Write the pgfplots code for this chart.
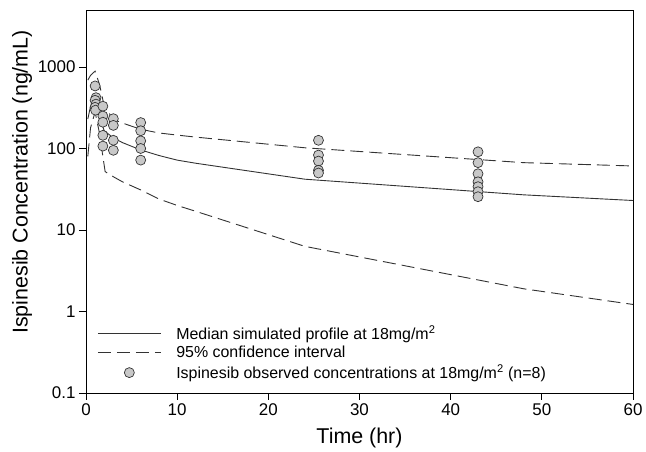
\documentclass[border=0pt]{standalone}
\usepackage{fontspec}
\setmainfont{Liberation Sans}
\usepackage{pgfplots}
\pgfplotsset{compat=1.18}

\definecolor{linegray}{HTML}{333333}
\definecolor{dotfill}{HTML}{C8C8C8}

\begin{document}
\begin{tikzpicture}
\useasboundingbox (-86bp,-59bp) rectangle (560bp,393bp);
\begin{axis}[
  scale only axis,
  width=547bp, height=383bp,
  xmin=0, xmax=60,
  ymode=log, ymin=0.1, ymax=5000,
  xtick={0,10,20,30,40,50,60},
  xticklabels={0,10,20,30,40,50,60},
  ytick={0.1,1,10,100,1000},
  yticklabels={0.1,1,10,100,1000},
  yminorticks=false,
  tick pos=left,
  tick align=outside,
  major tick length=7bp,
  every tick/.style={black, line width=0.8bp},
  axis line style={line width=0.9bp},
  ticklabel style={font=\fontsize{17}{20}\selectfont},
  xlabel={Time (hr)},
  ylabel={Ispinesib Concentration (ng/mL)},
  every axis x label/.style={at={(axis description cs:0.5,-0.1175)}, anchor=center,
    font=\fontsize{21.5}{25}\selectfont},
  every axis y label/.style={at={(axis description cs:-0.117,0.551)}, anchor=center, rotate=90,
    font=\fontsize{21.5}{25}\selectfont},
  legend image code/.code={\draw[mark repeat=2,mark phase=2,#1] plot coordinates {(0bp,0bp) (31.5bp,0bp) (63bp,0bp)};},
  legend style={draw=none, fill=none, at={(axis description cs:0.015,0.022)}, anchor=south west,
    font=\fontsize{16}{18}\selectfont, row sep=1.5bp, column sep=13bp,
    nodes={inner sep=2bp}},
  legend cell align=left,
]
\addplot[linegray, line width=0.9bp] coordinates {
 (0.2,230) (0.5,330) (1,430) (1.5,240) (2,165) (3,135) (4,118) (6,96)
 (8,82) (10,72) (12,66) (24,42) (48,27) (60,23)};
\addlegendentry{Median simulated profile at 18mg/m\textsuperscript{2}}
\addplot[linegray, line width=0.9bp, dash pattern=on 13bp off 6bp] coordinates {
 (0.2,690) (0.5,790) (1,890) (1.5,600) (2,330) (3,228) (4,205) (6,172)
 (8,155) (10,146) (12,138) (24,102) (48,67) (60,61)};
\addlegendentry{95\% confidence interval}
\addplot[linegray, line width=0.9bp, dash pattern=on 13bp off 6bp, forget plot] coordinates {
 (0.2,80) (0.5,180) (1,280) (1.5,150) (1.75,95) (2.1,52) (3,45) (4,39) (6,31)
 (8,24) (10,20) (12,17) (24,6.3) (48,1.9) (60,1.22)};
\addplot[only marks, mark=*, mark size=5bp, mark options={fill=dotfill, draw=linegray, line width=0.7bp}] coordinates {
 (1.0,585) (1.1,420) (1.0,390) (1.1,350) (1.0,320) (1.05,295)
 (1.85,330) (1.85,250) (1.85,210) (1.85,145) (1.85,107)
 (3,232) (3,192) (3,126) (3,95)
 (6,208) (6,165) (6,124) (6,100) (6,72)
 (25.5,126) (25.5,83) (25.5,70) (25.5,54) (25.5,50)
 (43,91) (43,67) (43,49) (43,39) (43,34) (43,29.5) (43,25.6)};
\addlegendentry{Ispinesib observed concentrations at 18mg/m\textsuperscript{2} (n=8)}
\end{axis}
\end{tikzpicture}
\end{document}
